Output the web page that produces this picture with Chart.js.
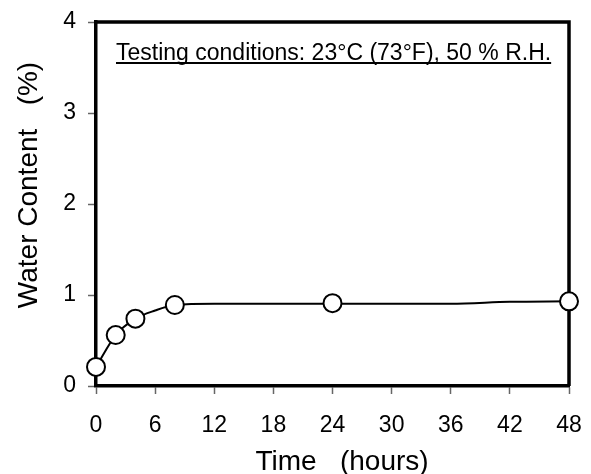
<!DOCTYPE html>
<html>
<head>
<meta charset="utf-8">
<script src="https://cdn.jsdelivr.net/npm/chart.js@4/dist/chart.umd.min.js"></script>
<style>
  html, body { margin: 0; padding: 0; background: #fff; }
  #wrap { width: 591px; height: 474px; }
</style>
</head>
<body>
<div id="wrap"><canvas id="chart" width="591" height="474"></canvas></div>
<script>
// measured points (open circles)
const hours = [0, 2, 4, 8, 24, 48];
const water = [0.21, 0.56, 0.74, 0.89, 0.91, 0.93];

// the drawn trend line
const curveHours = [0, 2, 4, 6, 8, 12, 24, 36, 42, 48];
const curveWater = [0.21, 0.56, 0.74, 0.83, 0.89, 0.905, 0.905, 0.905, 0.925, 0.93];

const xTicks = [0, 6, 12, 18, 24, 30, 36, 42, 48];
const yTicks = [0, 1, 2, 3, 4];

const note = "Testing conditions: 23°C (73°F), 50 % R.H.";
const xTitle = "Time   (hours)";
const yTitle = "Water Content   (%)";

const FONT = "'Liberation Sans', Arial, sans-serif";

const toXY = (xs, ys) => xs.map((x, i) => ({ x: x, y: ys[i] }));

// frame top/right + texts
const extras = {
  id: "extras",
  beforeDatasetsDraw(chart) {
    const ctx = chart.ctx;
    const a = chart.chartArea;
    ctx.save();
    ctx.strokeStyle = "#000";
    ctx.lineWidth = 3.5;
    ctx.beginPath();
    ctx.moveTo(a.left, a.top);
    ctx.lineTo(a.right, a.top);
    ctx.lineTo(a.right, a.bottom);
    ctx.stroke();

    ctx.fillStyle = "#000";
    ctx.font = "23px " + FONT;
    ctx.textAlign = "left";
    ctx.textBaseline = "alphabetic";
    ctx.fillText(note, 116, 60);
    const w = ctx.measureText(note).width;
    ctx.fillRect(116, 62, w, 2);

    ctx.font = "28px " + FONT;
    ctx.textAlign = "center";
    ctx.fillText(xTitle, 342, 470);

    ctx.translate(37, 185);
    ctx.rotate(-Math.PI / 2);
    ctx.fillText(yTitle, 0, 0);
    ctx.restore();
  }
};

new Chart(document.getElementById("chart"), {
  type: "scatter",
  data: {
    datasets: [
      {
        data: toXY(hours, water),
        showLine: false,
        pointRadius: 9,
        pointHoverRadius: 9,
        pointBackgroundColor: "#fff",
        pointBorderColor: "#000",
        pointBorderWidth: 2,
        clip: false,
        order: 0
      },
      {
        data: toXY(curveHours, curveWater),
        showLine: true,
        cubicInterpolationMode: "monotone",
        borderColor: "#000",
        borderWidth: 2,
        pointRadius: 0,
        clip: false,
        order: 1
      }
    ]
  },
  options: {
    responsive: false,
    animation: false,
    events: [],
    layout: { padding: { left: 0, right: 22, top: 22, bottom: 0 } },
    plugins: { legend: { display: false }, tooltip: { enabled: false } },
    scales: {
      x: {
        type: "linear",
        min: 0,
        max: 48,
        afterBuildTicks(s) { s.ticks = xTicks.map(v => ({ value: v })); },
        afterFit(s) { s.height = 88; s.paddingLeft = 0; s.paddingRight = 0; },
        grid: { drawOnChartArea: false, drawTicks: true, tickLength: 8, tickColor: "#666", tickWidth: 1.5 },
        border: { display: true, color: "#000", width: 3.5 },
        ticks: { color: "#000", padding: 18, font: { family: FONT, size: 23 } }
      },
      y: {
        min: 0,
        max: 4,
        afterBuildTicks(s) { s.ticks = yTicks.map(v => ({ value: v })); },
        afterFit(s) { s.width = 96; s.paddingTop = 0; s.paddingBottom = 0; },
        grid: { drawOnChartArea: false, drawTicks: true, tickLength: 8, tickColor: "#666", tickWidth: 1.5 },
        border: { display: true, color: "#000", width: 3.5 },
        ticks: { color: "#000", padding: 12, font: { family: FONT, size: 23 } }
      }
    }
  },
  plugins: [extras]
});
</script>
</body>
</html>
